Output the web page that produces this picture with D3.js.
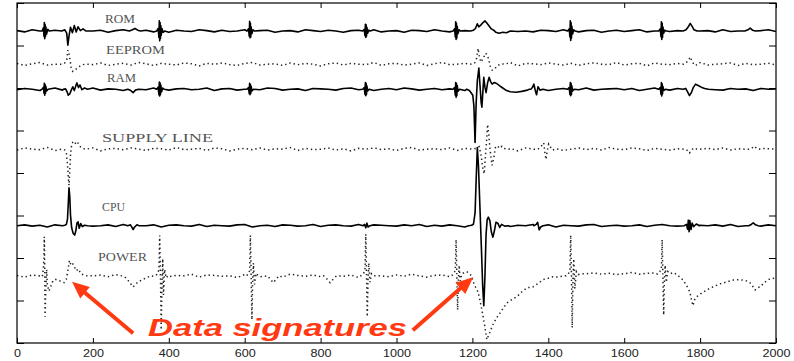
<!DOCTYPE html>
<html>
<head>
<meta charset="utf-8">
<script src="https://cdn.jsdelivr.net/npm/d3@7"></script>
<style>
  body { margin: 0; background: #fff; }
  svg { display: block; }
  .axis text { font-family: "Liberation Sans", Arial, sans-serif; font-size: 10px; fill: #222; }
  .axis line { stroke: #000; stroke-width: 1; }
  .axis path { display: none; }
  .trace-label { font-family: "Liberation Serif", "DejaVu Serif", serif; font-size: 11.5px; fill: #555; }
</style>
</head>
<body>
<svg id="chart"></svg>
<script>
// ---- data ----
const xTicks = [0, 200, 400, 600, 800, 1000, 1200, 1400, 1600, 1800, 2000];
const yTicks = [0, 10, 20, 30, 40, 50, 60, 70, 80];

const traceNames = ["ROM", "EEPROM", "RAM", "SUPPLY LINE", "CPU", "POWER"];
const traceOffsets = [73.4, 65.6, 59.7, 45.6, 27.6, 15.8];

// background samples every 20 units along x
const sampleX = d3.range(0, 2001, 20);

const romNoise = [
  0.1,-0.2,0.3,0.0,-0.3,0.2,0.1,-0.1,0.3,-0.2,
  0.0,0.2,-0.3,0.1,0.3,-0.1,0.0,0.2,-0.2,0.1,
  -0.3,0.2,0.0,-0.1,0.3,0.1,-0.2,0.2,-0.1,0.0,
  0.3,-0.2,0.1,0.2,-0.3,0.0,0.1,-0.2,0.3,0.1,
  -0.1,0.2,0.0,-0.3,0.1,0.2,-0.1,0.3,-0.2,0.0,
  0.1,-0.3,0.2,0.1,-0.1,0.3,0.0,-0.2,0.2,0.1,
  -0.1,0.0,0.2,-0.3,0.1,0.3,-0.1,0.0,-0.2,0.2,
  0.1,-0.1,0.3,0.0,-0.2,0.1,0.2,-0.3,0.0,0.2,
  -0.1,0.1,0.3,-0.2,0.0,0.2,-0.1,0.1,-0.3,0.2,
  0.0,0.1,-0.2,0.3,-0.1,0.0,0.2,-0.2,0.1,0.3,
  -0.1
];
const eepromNoise = [
  0.2,-0.3,0.1,0.4,-0.2,0.0,0.3,-0.4,0.1,0.2,
  -0.1,0.3,-0.3,0.0,0.2,-0.2,0.4,0.1,-0.3,0.2,
  0.0,-0.2,0.3,0.1,-0.4,0.2,0.0,0.3,-0.1,-0.3,
  0.2,0.4,-0.2,0.0,0.1,-0.3,0.3,-0.1,0.2,0.0,
  -0.4,0.1,0.3,-0.2,0.2,0.0,-0.1,0.4,-0.3,0.1,
  0.2,-0.2,0.0,0.3,-0.3,0.1,0.4,-0.1,0.0,0.2,
  -0.3,0.3,0.1,-0.2,0.0,0.4,-0.4,0.2,0.1,-0.1,
  0.3,0.0,-0.2,0.2,-0.3,0.1,0.3,0.0,-0.1,0.4,
  -0.2,0.1,0.2,-0.4,0.3,0.0,-0.1,0.2,0.1,-0.3,
  0.4,-0.2,0.0,0.1,0.3,-0.3,0.2,-0.1,0.0,0.2,
  -0.2
];
const ramNoise = [
  -0.1,0.2,0.0,-0.3,0.1,0.3,-0.2,0.0,0.2,-0.1,
  0.3,-0.2,0.1,0.0,-0.3,0.2,0.1,-0.1,0.3,0.0,
  -0.2,0.1,0.2,-0.1,0.0,0.3,-0.3,0.1,0.2,-0.2,
  0.0,0.1,-0.1,0.3,0.2,-0.2,0.0,0.1,-0.3,0.2,
  0.1,0.0,-0.2,0.2,0.3,-0.1,0.1,-0.3,0.0,0.2,
  -0.1,0.3,0.1,-0.2,0.0,0.2,-0.1,0.1,0.3,-0.3,
  0.0,0.2,-0.2,0.1,-0.1,0.3,0.0,-0.2,0.2,0.1,
  -0.3,0.0,0.2,0.1,-0.1,0.3,-0.2,0.0,0.1,0.2,
  -0.1,0.2,-0.3,0.0,0.3,0.1,-0.2,0.2,0.0,-0.1,
  0.1,0.3,-0.1,-0.2,0.2,0.0,0.1,-0.3,0.2,0.0,
  0.1
];
const supplyNoise = [
  -0.2,0.3,0.0,-0.1,0.4,-0.3,0.2,0.1,-0.2,0.0,
  0.3,-0.4,0.1,0.2,-0.1,0.3,0.0,-0.3,0.2,0.1,
  -0.2,0.4,-0.1,0.0,0.2,-0.3,0.3,0.1,-0.4,0.0,
  0.2,-0.1,0.3,-0.2,0.1,0.0,0.4,-0.3,0.2,-0.1,
  0.0,0.3,-0.2,0.1,-0.4,0.2,0.0,0.3,-0.1,0.1,
  -0.3,0.2,0.4,-0.2,0.0,0.1,-0.1,0.3,-0.3,0.2,
  0.1,-0.2,0.0,0.4,-0.1,0.2,-0.4,0.3,0.0,-0.2,
  0.2,0.1,-0.3,0.0,0.3,-0.1,0.2,-0.2,0.4,0.0,
  -0.1,0.3,0.1,-0.3,0.2,0.0,-0.2,0.1,0.3,-0.4,
  0.0,0.2,-0.1,0.3,-0.2,0.1,0.0,-0.3,0.2,0.1,
  0.0
];
const cpuNoise = [
  0.0,0.2,-0.1,0.1,-0.3,0.2,0.0,0.3,-0.2,0.1,
  -0.1,0.0,0.2,-0.2,0.3,0.1,-0.1,0.0,0.2,-0.3,
  0.1,0.2,0.0,-0.1,0.3,-0.2,0.1,0.0,-0.1,0.2,
  0.3,-0.3,0.0,0.1,-0.2,0.2,0.1,-0.1,0.0,0.3,
  -0.2,0.1,0.2,0.0,-0.1,0.3,-0.3,0.2,0.1,0.0,
  -0.1,0.2,0.0,0.3,-0.2,0.1,-0.1,0.2,0.0,-0.3,
  0.1,0.3,-0.1,0.0,0.2,-0.2,0.1,0.0,0.3,-0.1,
  0.2,-0.3,0.1,0.0,-0.1,0.2,0.3,-0.2,0.0,0.1,
  -0.1,0.0,0.2,-0.2,0.1,0.3,0.0,-0.1,0.2,-0.3,
  0.1,0.0,0.2,-0.1,0.3,-0.2,0.0,0.1,-0.1,0.2,
  0.0
];
const powerNoise = [
  0.1,-0.3,0.2,0.0,-0.2,0.4,0.1,-0.1,0.3,-0.3,
  0.0,0.2,-0.2,0.3,0.1,-0.4,0.2,0.0,-0.1,0.3,
  -0.2,0.1,0.0,0.4,-0.3,0.2,0.1,-0.1,0.0,-0.4,
  0.3,0.1,-0.2,0.2,0.0,-0.3,0.4,0.1,-0.1,0.2,
  -0.2,0.0,0.3,-0.1,0.2,-0.4,0.1,0.3,0.0,-0.2,
  0.2,-0.1,0.4,0.0,-0.3,0.1,0.2,-0.2,0.3,0.0,
  -0.1,0.2,-0.3,0.1,0.4,0.0,-0.2,0.3,-0.1,0.1,
  0.0,0.3,-0.2,0.2,0.1,0.5,0.7,0.4,0.6,0.3,
  0.5,0.8,0.4,0.6,0.7,0.3,0.5,0.6,0.4,0.7,
  0.5,0.6,0.3,0.2,0.0,0.1,-0.2,0.3,0.0,0.2,
  -0.1
];

// events: [x, deviation] pairs
const romEvents = [
  [[66,0],[70,0.8],[71,-1.2],[72,2.0],[73,-1.8],[74,1.6],[75,-1.3],[76,1.0],[78,-0.7],[81,0.4],[85,0]],
  [[118,0],[126,0.3],[131,-0.5],[134,-3.3],[137,-1.2],[141,0.9],[146,-0.4],[151,1.3],[156,-0.2],[161,1.0],[167,0.1],[174,0.5],[182,0]],
  [[296,0],[304,0.3],[311,0.6],[318,0.2],[326,0]],
  [[368,0],[372,0.6],[374,-1.5],[375,2.4],[376,-2.3],[377,2.0],[378,-1.8],[379,1.3],[380,-1.0],[382,0.6],[385,-0.3],[389,0]],
  [[606,0],[610,0.5],[612,-1.2],[613,2.3],[614,-1.6],[615,1.9],[616,-1.4],[617,1.0],[619,-0.6],[622,0.3],[626,0]],
  [[911,0],[915,0.4],[917,-1.1],[918,1.6],[919,-1.5],[920,1.5],[921,-1.2],[922,0.9],[924,-0.5],[927,0.2],[931,0]],
  [[1149,0],[1153,0.5],[1155,-1.4],[1156,2.2],[1157,-2.0],[1158,1.8],[1159,-1.6],[1160,1.1],[1162,-0.6],[1165,0.3],[1169,0]],
  [[1195,0],[1203,0.2],[1208,0.6],[1213,1.7],[1217,1.0],[1222,1.4],[1228,2.0],[1233,2.4],[1238,1.9],[1244,1.2],[1250,0.5],[1256,0.2],[1262,-0.3],[1270,-0.5],[1280,-0.3],[1290,-0.4],[1300,0]],
  [[1451,0],[1455,0.5],[1457,-1.4],[1458,2.4],[1459,-2.2],[1460,2.0],[1461,-1.7],[1462,1.2],[1464,-0.7],[1467,0.3],[1471,0]],
  [[1691,0],[1695,0.5],[1697,-1.3],[1698,2.2],[1699,-2.0],[1700,1.9],[1701,-1.5],[1702,1.0],[1704,-0.5],[1707,0.2],[1711,0]],
  [[1755,0],[1763,0.3],[1769,1.0],[1774,1.8],[1779,1.1],[1784,0.3],[1792,0]],
  [[1918,0],[1926,0.3],[1932,0.7],[1938,0.2],[1946,0]]
];
const eepromEvents = [
  [[118,0],[126,0.3],[131,1.0],[134,3.3],[137,2.4],[140,0.9],[143,-1.1],[147,-1.7],[152,-1.4],[158,-1.0],[165,-0.5],[174,-0.1],[184,0]],
  [[1198,0],[1206,0.3],[1211,1.4],[1215,3.7],[1218,2.0],[1222,0.5],[1228,1.3],[1235,2.6],[1240,2.0],[1244,0.7],[1248,-0.8],[1252,-1.4],[1258,-1.2],[1265,-0.4],[1275,0.1],[1285,0]],
  [[1756,0],[1764,0.4],[1770,1.0],[1774,1.7],[1779,0.6],[1786,-0.3],[1796,0]]
];
const ramEvents = [
  [[66,0],[70,0.5],[71,-0.9],[72,1.4],[73,-1.4],[74,1.2],[75,-1.0],[76,0.7],[78,-0.4],[82,0]],
  [[122,0],[128,0.1],[132,-0.6],[135,-1.4],[139,-1.1],[143,-0.2],[147,0.6],[151,-0.3],[155,0.8],[158,1.5],[162,0.4],[166,1.0],[171,-0.1],[178,0.3],[186,0]],
  [[292,0],[300,-0.3],[306,-0.8],[312,-0.2],[320,0]],
  [[368,0],[372,0.5],[374,-1.3],[375,1.7],[376,-1.6],[377,1.5],[378,-1.3],[379,1.0],[381,-0.6],[384,0.3],[388,0]],
  [[606,0],[610,0.4],[612,-1.0],[613,1.4],[614,-1.3],[615,1.2],[616,-1.0],[617,0.7],[619,-0.4],[623,0]],
  [[911,0],[915,0.4],[917,-1.2],[918,1.6],[919,-1.5],[920,1.4],[921,-1.2],[922,0.8],[924,-0.4],[928,0]],
  [[1149,0],[1153,0.4],[1155,-1.4],[1156,1.6],[1157,-1.9],[1158,1.4],[1159,-1.5],[1160,0.9],[1162,-0.5],[1166,0]],
  [[1185,0],[1192,-0.3],[1197,-0.9],[1201,-1.4],[1204,-4],[1207,-12.5],[1210,-3],[1213,2],[1217,5.0],[1220,1],[1223,-3],[1225,-4.2],[1228,0],[1230,2.8],[1233,0.5],[1236,-0.8],[1240,1.5],[1244,2.8],[1248,1.8],[1252,1.2],[1258,1.6],[1265,1.3],[1272,0.8],[1280,0.3],[1290,-0.3],[1300,-0.6],[1315,-0.7],[1330,-0.5],[1345,-0.2],[1350,0]],
  [[1354,0],[1358,0.4],[1362,1.2],[1366,-0.4],[1369,-1.3],[1373,0.6],[1378,-0.2],[1386,0]],
  [[1451,0],[1455,0.4],[1457,-1.2],[1458,1.6],[1459,-1.5],[1460,1.4],[1461,-1.2],[1462,0.8],[1464,-0.4],[1468,0]],
  [[1691,0],[1695,0.4],[1697,-1.2],[1698,1.6],[1699,-1.6],[1700,1.3],[1701,-1.1],[1702,0.7],[1704,-0.3],[1708,0]],
  [[1755,0],[1762,0.2],[1767,-0.6],[1772,-1.5],[1777,-0.8],[1782,0.4],[1788,1.2],[1795,0.9],[1803,0.5],[1812,0.2],[1822,0]]
];
const supplyEvents = [
  [[118,0],[126,-0.2],[130,-0.8],[133,-3.5],[135,-6.5],[137,-8.5],[139,-5],[141,-1.5],[144,1.2],[149,1.9],[154,1.4],[159,1.8],[164,0.8],[172,0.2],[182,0]],
  [[1200,0],[1210,0.2],[1218,0.6],[1223,-1.5],[1227,-4.2],[1231,-5.8],[1234,-2],[1237,1.5],[1240,5.8],[1243,3.5],[1246,0.5],[1249,-2],[1252,-3.8],[1256,-2.2],[1261,0.5],[1266,0.8],[1272,0.2],[1278,0.7],[1286,0.1],[1296,0]],
  [[1372,0],[1379,0.4],[1384,1.0],[1388,1.5],[1391,-0.8],[1394,-2.4],[1397,-0.5],[1401,1.2],[1405,0.6],[1411,-0.2],[1418,0]],
  [[1760,0],[1767,-0.3],[1772,-0.9],[1777,-0.2],[1784,0.3],[1792,0]],
  [[1930,0],[1937,0.3],[1943,0.7],[1949,0.2],[1956,0]]
];
const cpuEvents = [
  [[120,0],[126,0.1],[130,0.3],[133,1.5],[135,5],[137,8.9],[139,7],[141,2.5],[144,-0.5],[148,-1.8],[152,-2.2],[155,-1.2],[158,0.6],[161,0.9],[164,-0.6],[168,0.5],[172,-0.2],[178,0.1],[186,0]],
  [[292,0],[299,0.2],[303,-0.4],[306,-0.9],[310,-0.3],[316,0.2],[322,0]],
  [[912,0],[916,0.3],[919,-0.5],[922,0.6],[925,-0.3],[930,0]],
  [[1190,0],[1198,0.1],[1203,0.4],[1207,3],[1210,11],[1213,18.4],[1216,14],[1220,4],[1224,-6],[1227,-14],[1230,-18.8],[1233,-12],[1236,-2],[1239,1.5],[1242,2],[1246,1.2],[1250,-1.5],[1254,-2.7],[1258,-1.2],[1262,0.8],[1267,0.6],[1272,-0.4],[1277,0.3],[1285,-0.1],[1295,0]],
  [[1362,0],[1368,0.3],[1372,0.8],[1376,-1.0],[1380,-0.3],[1386,0]],
  [[1758,0],[1764,0.3],[1767,-0.8],[1769,1.3],[1771,-1.4],[1773,1.2],[1776,-0.9],[1779,0.6],[1783,-0.2],[1790,0.4],[1798,0]],
  [[1928,0],[1935,0.3],[1940,0.7],[1946,0.2],[1953,0]]
];
const powerEvents = [
  [[58,0],[64,-0.3],[68,0.2],[71,4],[72,9.2],[73,2],[74,-9.6],[76,-3],[78,1.5],[80,-2.0],[84,-3.6],[88,-2.8],[93,-1.5],[100,-0.8],[108,-1.0],[116,-1.3],[124,-1.6],[130,-0.8],[134,1.2],[138,3.6],[142,2.6],[146,3.0],[151,2.2],[156,1.2],[162,1.6],[168,0.5],[176,0.2],[184,0]],
  [[276,0],[286,-0.4],[294,-1.2],[300,-1.9],[306,-2.6],[313,-1.9],[320,-1.4],[330,-0.9],[340,-0.5],[352,0]],
  [[364,0],[370,0.4],[374,1.5],[376,9.5],[378,0],[380,-12.7],[382,-2],[384,4],[386,-4.5],[389,1.5],[393,-0.5],[398,0]],
  [[603,0],[609,0.3],[613,1.2],[615,9.5],[617,0],[619,-10.3],[621,-1],[623,3],[626,-2],[630,0.6],[636,0]],
  [[660,0],[668,-0.8],[675,-1.6],[682,-0.9],[690,0]],
  [[808,0],[816,-0.7],[825,-1.6],[833,-0.8],[842,0]],
  [[906,0],[913,0.5],[917,1.5],[919,9.8],[921,0],[923,-9.6],[925,-1],[927,3],[930,-1.5],[934,0.5],[940,0]],
  [[1145,0],[1151,0.5],[1155,1.3],[1157,8.5],[1159,0],[1161,-8],[1163,-1],[1165,2.5],[1168,-1.2],[1172,0.4],[1178,0.8],[1185,1.0],[1192,0.5],[1198,0],[1202,-1.4],[1208,-2.6],[1215,-3.8],[1220,-5.8],[1225,-8],[1229,-10],[1233,-12],[1238,-15],[1245,-13.5],[1254,-11.5],[1263,-10],[1273,-8.7],[1282,-7.5],[1291,-6.4],[1304,-5.6],[1317,-4.9],[1330,-3.8],[1344,-2.8],[1360,-2.6],[1373,-1.8],[1386,-0.9],[1399,-0.6],[1412,-0.2],[1426,-0.3],[1440,0]],
  [[1447,0],[1453,0.5],[1457,1.5],[1459,9.6],[1461,0],[1463,-12.2],[1465,-1],[1467,4],[1470,-3],[1474,1],[1479,0.3],[1486,0.5]],
  [[1688,0.4],[1694,1.0],[1698,1.8],[1700,8.5],[1702,0],[1704,-9.2],[1706,-1],[1708,2.5],[1711,-1.5],[1715,1],[1721,0.5],[1730,0.8],[1740,0.2],[1748,-0.4],[1755,-1],[1764,-2.2],[1773,-3.8],[1777,-5.5],[1781,-7],[1786,-5.5],[1791,-4.9],[1805,-4],[1820,-3.2],[1834,-2.6],[1852,-1.9],[1871,-1.4],[1888,-1.0],[1905,-0.9],[1920,-1.1],[1931,-1.6],[1939,-2.5],[1945,-3.3],[1951,-2.8],[1958,-2.6],[1970,-1.5],[1984,-0.7],[2000,-0.5]]
];

const annotationText = "Data signatures";

// ---- layout ----
const W = 794, H = 361;
const margin = { top: 3, right: 18, bottom: 18, left: 17 };
const width = W - margin.left - margin.right;
const height = H - margin.top - margin.bottom;

const svg = d3.select("#chart").attr("width", W).attr("height", H);
const g = svg.append("g").attr("transform", `translate(${margin.left},${margin.top})`);

const x = d3.scaleLinear().domain([0, 2000]).range([0, width]);
const y = d3.scaleLinear().domain([0, 80]).range([height, 0]);

// merge background samples with event detail
function buildTrace(noise, events) {
  const spans = events.map(e => [e[0][0], e[e.length - 1][0]]);
  const base = sampleX.map((sx, i) => [sx, noise[i]])
    .filter(([sx]) => !spans.some(([a, b]) => sx >= a && sx <= b));
  return base.concat(...events).sort((a, b) => a[0] - b[0]);
}

const traces = [
  buildTrace(romNoise, romEvents),
  buildTrace(eepromNoise, eepromEvents),
  buildTrace(ramNoise, ramEvents),
  buildTrace(supplyNoise, supplyEvents),
  buildTrace(cpuNoise, cpuEvents),
  buildTrace(powerNoise, powerEvents)
];
const dotted = [false, true, false, true, false, true];

svg.append("defs").append("clipPath").attr("id", "plotClip")
  .append("rect").attr("width", width).attr("height", height);

const plot = g.append("g").attr("clip-path", "url(#plotClip)");

traces.forEach((tr, i) => {
  const line = d3.line()
    .x(d => x(d[0]))
    .y(d => y(traceOffsets[i] + d[1]));
  const p = plot.append("path")
    .datum(tr)
    .attr("d", line)
    .attr("fill", "none");
  if (dotted[i]) {
    p.attr("stroke", "#222").attr("stroke-width", 1.5).attr("stroke-dasharray", "1.4,3");
  } else {
    p.attr("stroke", "#000").attr("stroke-width", 1.6).attr("stroke-linejoin", "round");
  }
});

// trace labels (left edge, baseline, width in px)
const labelPlace = [
  [105, 23, 30], [106, 54, 59], [107, 82, 29],
  [102, 142, 111], [102, 211, 23], [98, 261, 49]
];
traceNames.forEach((name, i) => {
  const [lx, ly, lw] = labelPlace[i];
  svg.append("text")
    .attr("class", "trace-label")
    .attr("x", lx)
    .attr("y", ly)
    .attr("textLength", lw)
    .attr("lengthAdjust", "spacingAndGlyphs")
    .text(name);
});

// axes, ticks pointing inward
const xb = g.append("g").attr("class", "axis")
  .attr("transform", `translate(0,${height})`)
  .call(d3.axisBottom(x).tickValues(xTicks).tickFormat(d3.format("d"))
    .tickSizeInner(-5).tickSizeOuter(0).tickPadding(7));
xb.selectAll("text")
  .attr("textLength", d => String(d).length * 7)
  .attr("lengthAdjust", "spacingAndGlyphs");

g.append("g").attr("class", "axis")
  .call(d3.axisTop(x).tickValues(xTicks).tickSizeInner(-5).tickSizeOuter(0).tickFormat(""));
g.append("g").attr("class", "axis")
  .call(d3.axisLeft(y).tickValues(yTicks).tickSizeInner(-7).tickSizeOuter(0).tickFormat(""));
g.append("g").attr("class", "axis")
  .attr("transform", `translate(${width},0)`)
  .call(d3.axisRight(y).tickValues(yTicks).tickSizeInner(-7).tickSizeOuter(0).tickFormat(""));

g.append("rect")
  .attr("width", width).attr("height", height)
  .attr("fill", "none").attr("stroke", "#000").attr("stroke-width", 1.2);

// annotation: text + two arrows (tail, tip in data units)
const red = "#ff3a12";
const arrows = [
  [[306, 2.3], [145, 14.4]],
  [[1043, 3.0], [1202, 15.5]]
];
arrows.forEach(([tail, tip]) => {
  const x0 = x(tail[0]), y0 = y(tail[1]);
  const x1 = x(tip[0]), y1 = y(tip[1]);
  const len = Math.hypot(x1 - x0, y1 - y0);
  const ux = (x1 - x0) / len, uy = (y1 - y0) / len;
  const headLen = 17, headHalf = 7.5;
  const bx = x1 - ux * headLen, by = y1 - uy * headLen;
  g.append("line")
    .attr("x1", x0).attr("y1", y0)
    .attr("x2", bx + ux * 2).attr("y2", by + uy * 2)
    .attr("stroke", red).attr("stroke-width", 4);
  g.append("path")
    .attr("d", `M${x1},${y1} L${bx - uy * headHalf},${by + ux * headHalf} L${bx + uy * headHalf},${by - ux * headHalf} Z`)
    .attr("fill", red);
});

svg.append("text")
  .attr("x", 148)
  .attr("y", 336)
  .attr("textLength", 259)
  .attr("lengthAdjust", "spacingAndGlyphs")
  .style("font-family", "'Liberation Sans', Arial, sans-serif")
  .style("font-weight", "bold")
  .style("font-style", "italic")
  .style("font-size", "24px")
  .style("fill", red)
  .text(annotationText);
</script>
</body>
</html>
